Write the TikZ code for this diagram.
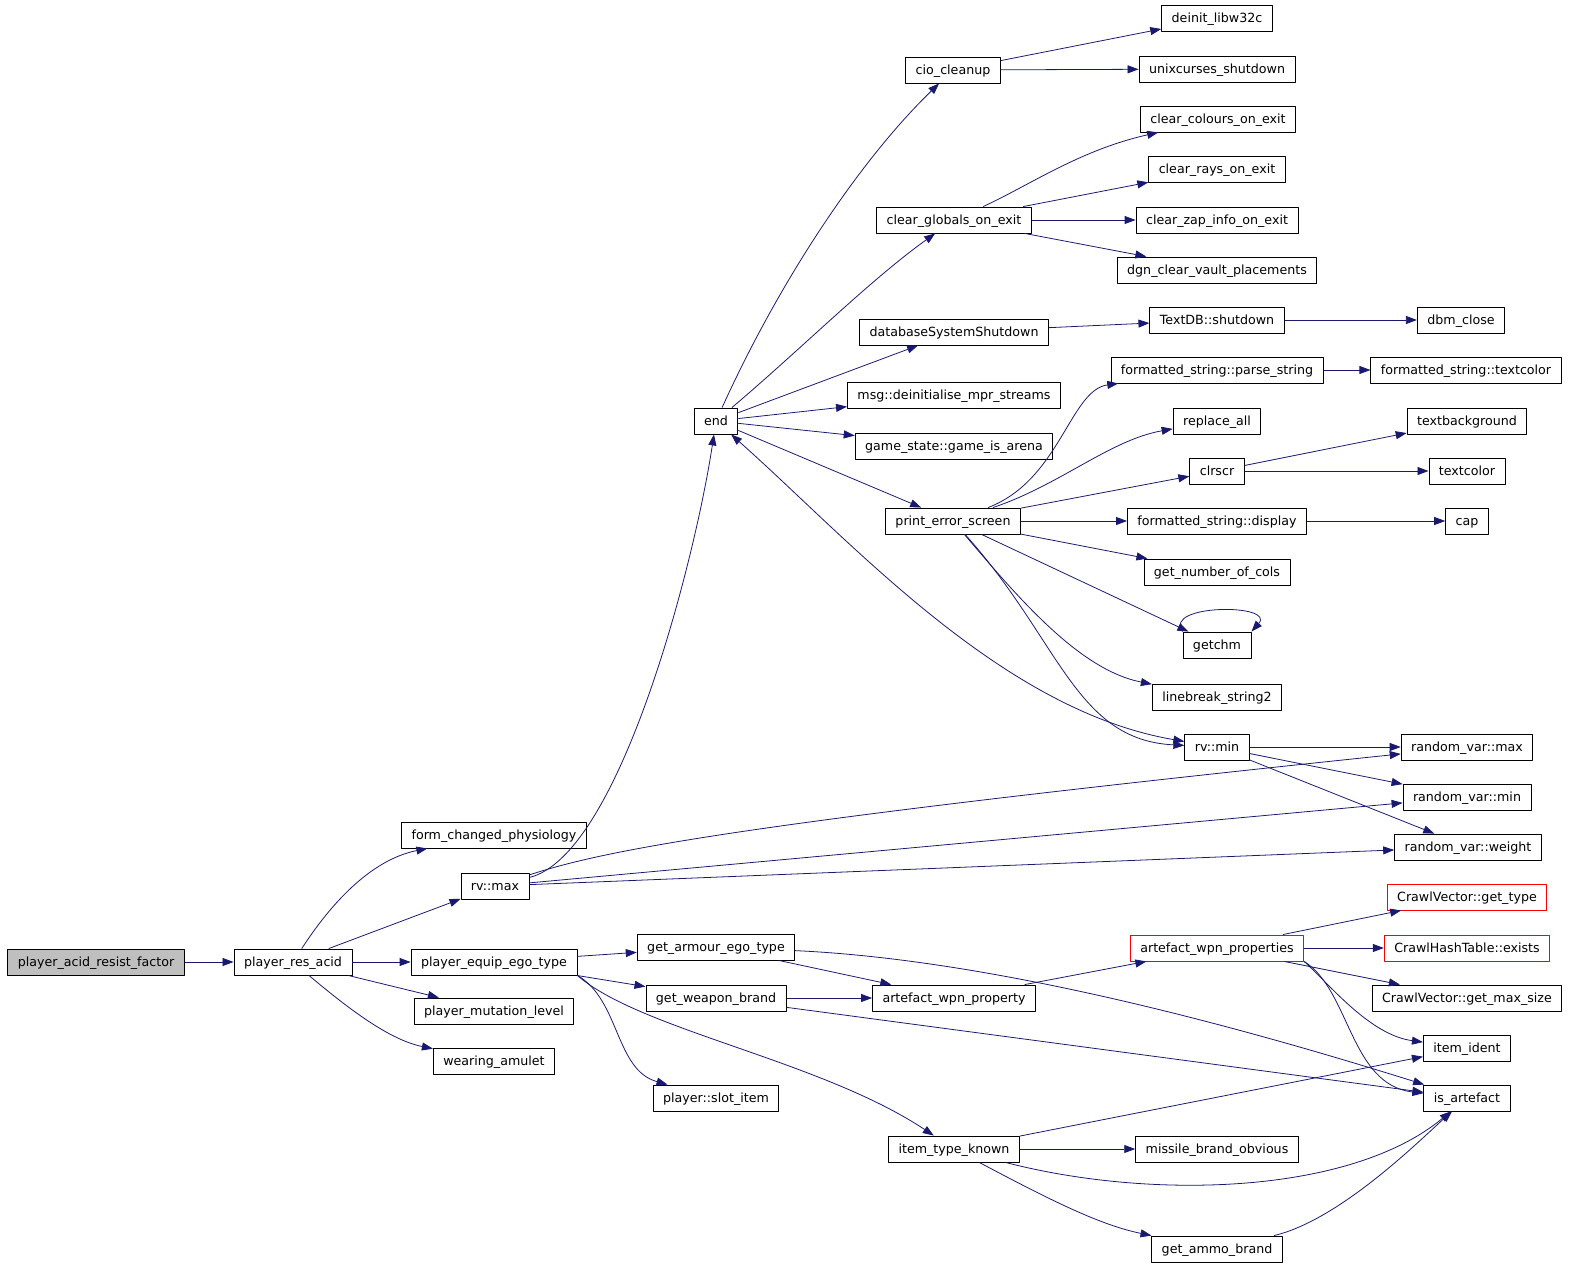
\documentclass[tikz,border=0pt]{standalone}
\usepackage{fontspec}
\setmainfont{DejaVu Sans}
\usetikzlibrary{arrows.meta}
\definecolor{callblue}{RGB}{25,25,112}
\begin{document}
\begin{tikzpicture}[x=0.02cm, y=-0.02cm, font=\fontsize{7.2}{8}\selectfont, line join=round, >={Triangle[length=0.22cm,width=0.16cm]},
	fn/.style={draw, line width=0.5pt, minimum height=0.52cm, inner xsep=0.2cm, inner ysep=0pt, text height=0.75em, text depth=0.22em},
	hl/.style={fn, fill=black!25},
	ext/.style={fn, draw=red},
	call/.style={->, draw=callblue, line width=0.45pt}]
	\useasboundingbox (0,0) rectangle (1579,1277);
	% left part
	\node[hl] (pacf) at (96,962) {player\_acid\_resist\_factor};
	\node[fn] (pra) at (293,962) {player\_res\_acid};
	\node[fn] (fcp) at (494,835) {form\_changed\_physiology};
	\node[fn] (rvmax) at (495,886) {rv::max};
	\node[fn] (pego) at (494,962) {player\_equip\_ego\_type};
	\node[fn] (pml) at (494,1011) {player\_mutation\_level};
	\node[fn] (wamu) at (494,1061) {wearing\_amulet};
	\node[fn] (end) at (716,421) {end};
	% end and what it calls
	\node[fn] (cio) at (953,70) {cio\_cleanup};
	\node[fn] (deinit) at (1217,18) {deinit\_libw32c};
	\node[fn] (unixcs) at (1217,69) {unixcurses\_shutdown};
	\node[fn] (cgoe) at (954,220) {clear\_globals\_on\_exit};
	\node[fn] (colours) at (1218,119) {clear\_colours\_on\_exit};
	\node[fn] (rays) at (1217,169) {clear\_rays\_on\_exit};
	\node[fn] (zap) at (1217,220) {clear\_zap\_info\_on\_exit};
	\node[fn] (vault) at (1217,270) {dgn\_clear\_vault\_placements};
	\node[fn] (dbss) at (954,332) {databaseSystemShutdown};
	\node[fn] (tdbs) at (1217,320) {TextDB::shutdown};
	\node[fn] (dbmc) at (1461,320) {dbm\_close};
	\node[fn] (mprs) at (954,395) {msg::deinitialise\_mpr\_streams};
	\node[fn] (arena) at (954,446) {game\_state::game\_is\_arena};
	\node[fn] (pes) at (953,521) {print\_error\_screen};
	\node[fn] (parse) at (1217,370) {formatted\_string::parse\_string};
	\node[fn] (fstc) at (1466,370) {formatted\_string::textcolor};
	\node[fn] (repl) at (1217,421) {replace\_all};
	\node[fn] (clrscr) at (1217,471) {clrscr};
	\node[fn] (tbg) at (1467,421) {textbackground};
	\node[fn] (tcol) at (1467,471) {textcolor};
	\node[fn] (fsdisp) at (1217,521) {formatted\_string::display};
	\node[fn] (cap) at (1467,521) {cap};
	\node[fn] (gnoc) at (1217,572) {get\_number\_of\_cols};
	\node[fn] (getchm) at (1217,645) {getchm};
	\node[fn] (lbs) at (1217,697) {linebreak\_string2};
	\node[fn] (rvmin) at (1217,747) {rv::min};
	\node[fn] (rvxmax) at (1467,747) {random\_var::max};
	\node[fn] (rvxmin) at (1467,797) {random\_var::min};
	\node[fn] (rvxw) at (1468,847) {random\_var::weight};
	% ego type branch
	\node[fn] (gaet) at (716,947) {get\_armour\_ego\_type};
	\node[fn] (gwb) at (716,998) {get\_weapon\_brand};
	\node[fn] (slot) at (716,1098) {player::slot\_item};
	\node[fn] (awp) at (954,998) {artefact\_wpn\_property};
	\node[fn] (itk) at (954,1149) {item\_type\_known};
	\node[ext] (awps) at (1217,948) {artefact\_wpn\_properties};
	\node[fn] (mbo) at (1217,1149) {missile\_brand\_obvious};
	\node[fn] (gab) at (1217,1249) {get\_ammo\_brand};
	\node[ext] (cvgt) at (1467,897) {CrawlVector::get\_type};
	\node[ext] (chte) at (1467,948) {CrawlHashTable::exists};
	\node[fn] (cvms) at (1467,998) {CrawlVector::get\_max\_size};
	\node[fn] (iid) at (1467,1048) {item\_ident};
	\node[fn] (isart) at (1467,1098) {is\_artefact};
	% straight calls
	\foreach \a/\b in {pacf/pra, pra/rvmax, pra/pego, pra/pml, rvmax/rvxmin, rvmax/rvxw,
		end/dbss, end/mprs, end/arena, end/pes, cio/deinit, cio/unixcs, cgoe/rays, cgoe/zap, cgoe/vault,
		dbss/tdbs, tdbs/dbmc, parse/fstc, pes/clrscr, pes/fsdisp, pes/gnoc, pes/getchm,
		clrscr/tbg, clrscr/tcol, fsdisp/cap, rvmin/rvxmax, rvmin/rvxmin, rvmin/rvxw,
		pego/gaet, pego/gwb, gaet/awp, gwb/awp, gwb/isart, awp/awps, awps/cvgt, awps/chte, awps/cvms,
		itk/mbo, itk/iid}
		\draw[call] (\a) -- (\b);
	% bent calls
	\draw[call] (pra) .. controls (330,905) and (370,860) .. (fcp);
	\draw[call] (pra) .. controls (350,1010) and (390,1040) .. (wamu);
	\draw[call] (rvmax) .. controls (620,855) and (695,560) .. (end);
	\draw[call] (rvmax) .. controls (600,852) and (720,825) .. (rvxmax);
	\draw[call] (end) .. controls (780,280) and (860,160) .. (cio);
	\draw[call] (end) .. controls (800,350) and (870,280) .. (cgoe);
	\draw[call] (cgoe) .. controls (1030,185) and (1080,150) .. (colours);
	\draw[call] (pes) .. controls (1060,480) and (1070,390) .. (parse);
	\draw[call] (pes) .. controls (1060,485) and (1110,440) .. (repl);
	\draw[call] (pes) .. controls (1020,600) and (1080,670) .. (lbs);
	\draw[call] (pes) .. controls (1060,640) and (1075,740) .. (rvmin);
	\draw[call, <->] (end) .. controls (850,540) and (1000,710) .. (rvmin);
	\draw[call] (getchm.north west) .. controls +(-20,-28) and +(25,-28) .. (getchm.north east);
	\draw[call] (pego.south east) .. controls (620,1000) and (615,1070) .. (slot);
	\draw[call] (pego.south east) .. controls (640,1030) and (820,1060) .. (itk);
	\draw[call] (gaet) .. controls (1000,960) and (1250,1030) .. (isart);
	\draw[call] (awps.south east) .. controls (1330,985) and (1370,1035) .. (iid);
	\draw[call] (awps.south east) .. controls (1350,990) and (1350,1085) .. (isart);
	\draw[call] (itk) .. controls (1150,1200) and (1350,1195) .. (isart);
	\draw[call] (itk) .. controls (1050,1200) and (1100,1225) .. (gab);
	\draw[call] (gab) .. controls (1340,1220) and (1420,1140) .. (isart);
\end{tikzpicture}
\end{document}
